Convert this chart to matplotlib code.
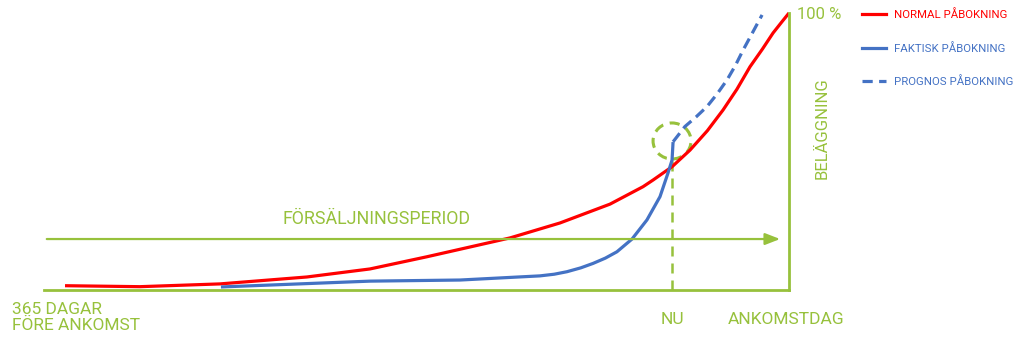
import numpy as np
import matplotlib.pyplot as plt
from matplotlib.lines import Line2D
from matplotlib.patches import Ellipse

plt.rcParams['font.family'] = ['Roboto', 'DejaVu Sans']

green = '#97C13C'
red = '#FF0000'
blue = '#4472C4'

# days before arrival (negative) and occupancy in %
normal_days = [-354.7, -318, -278.8, -236.2, -205.3, -177.4, -136.7, -112.2, -87.7, -71.5,
               -66.6, -57.3, -48.5, -40, -32.3, -25.5, -19.1, -13, -7.8, -3.5, 0]
normal_occ = [1.55, 1.2, 2.2, 4.7, 7.6, 12.0, 18.8, 24.2, 31.0, 37.3,
              39.7, 44.5, 50.5, 57.5, 65.0, 72.5, 80.6, 87.0, 92.8, 96.8, 100.0]

actual_days = [-278.3, -205.3, -161.2, -122.0, -115, -108.8, -102, -96.0, -90, -84.3, -76.9,
               -69.6, -63.2, -59.3, -57.3, -56.8]
actual_occ = [1.1, 3.2, 3.6, 5.1, 5.7, 6.6, 8.0, 9.6, 11.5, 13.8, 18.4,
              25.3, 33.7, 42.2, 46.9, 53.4]

forecast_days = [-56.8, -51.0, -45.5, -40.2, -35.2, -30.4, -26.3, -22.5, -17.8, -13.2]
forecast_occ = [53.5, 59.0, 62.5, 66.2, 70.8, 75.8, 81.0, 86.6, 93.0, 99.3]

now_day = -57.1

fig = plt.figure(figsize=(10.23, 3.52), dpi=100)
ax = fig.add_axes([44/1023, (352-290)/352, (789-44)/1023, (290-13)/352])
ax.set_xlim(-365, 0)
ax.set_ylim(0, 100)
ax.set_xticks([])
ax.set_yticks([])
for s in ['top', 'left']:
    ax.spines[s].set_visible(False)
for s in ['bottom', 'right']:
    ax.spines[s].set_color(green)
    ax.spines[s].set_linewidth(2)

# sales period arrow
ax.annotate('', xy=(-3, 18.4), xytext=(-365, 18.4),
            arrowprops=dict(arrowstyle='-|>,head_length=0.9,head_width=0.35', color=green, lw=1.6),
            annotation_clip=False)
ax.text(-202, 25.8, 'FÖRSÄLJNINGSPERIOD', color=green, fontsize=12.8, ha='center', va='center')

# now marker
ax.plot([now_day, now_day], [0, 47], color=green, lw=1.8, ls=(0, (4, 2.8)))
ax.add_patch(Ellipse((now_day - 0.2, 53.8), 18.6, 13.0, fill=False,
                     edgecolor=green, lw=2.2, ls=(0, (3.3, 2.2))))

ax.plot(normal_days, normal_occ, color=red, lw=2.3, clip_on=False,
        solid_capstyle='butt', solid_joinstyle='round')
ax.plot(actual_days, actual_occ, color=blue, lw=2.3, clip_on=False,
        solid_capstyle='butt', solid_joinstyle='round')
ax.plot(forecast_days, forecast_occ, color=blue, lw=2.3, ls=(0, (3.4, 1.9)), clip_on=False)

# axis texts
ax.text(-380.5, -4.2, '365 DAGAR\nFÖRE ANKOMST', color=green, fontsize=12.5, ha='left', va='top',
        linespacing=1.13)
ax.text(now_day, -10.5, 'NU', color=green, fontsize=12.5, ha='center', va='center')
ax.text(-1.5, -10.5, 'ANKOMSTDAG', color=green, fontsize=12.5, ha='center', va='center')
ax.text(3.8, 99.3, '100 %', color=green, fontsize=12, ha='left', va='center')
ax.text(16.2, 58.5, 'BELÄGGNING', color=green, fontsize=12, ha='center', va='center', rotation=90)

handles = [Line2D([], [], color=red, lw=2.3),
           Line2D([], [], color=blue, lw=2.3),
           Line2D([], [], color=blue, lw=2.3, ls=(0, (3.2, 2.0)))]
labels = ['NORMAL PÅBOKNING', 'FAKTISK PÅBOKNING', 'PROGNOS PÅBOKNING']
fig.legend(handles, labels, loc='upper left', bbox_to_anchor=(852/1023, 1 + 1/352),
           frameon=False, fontsize=8.2, labelcolor=[red, blue, blue],
           handlelength=2.1, handletextpad=0.7, labelspacing=1.98)

fig.savefig('out.png', dpi=100)
